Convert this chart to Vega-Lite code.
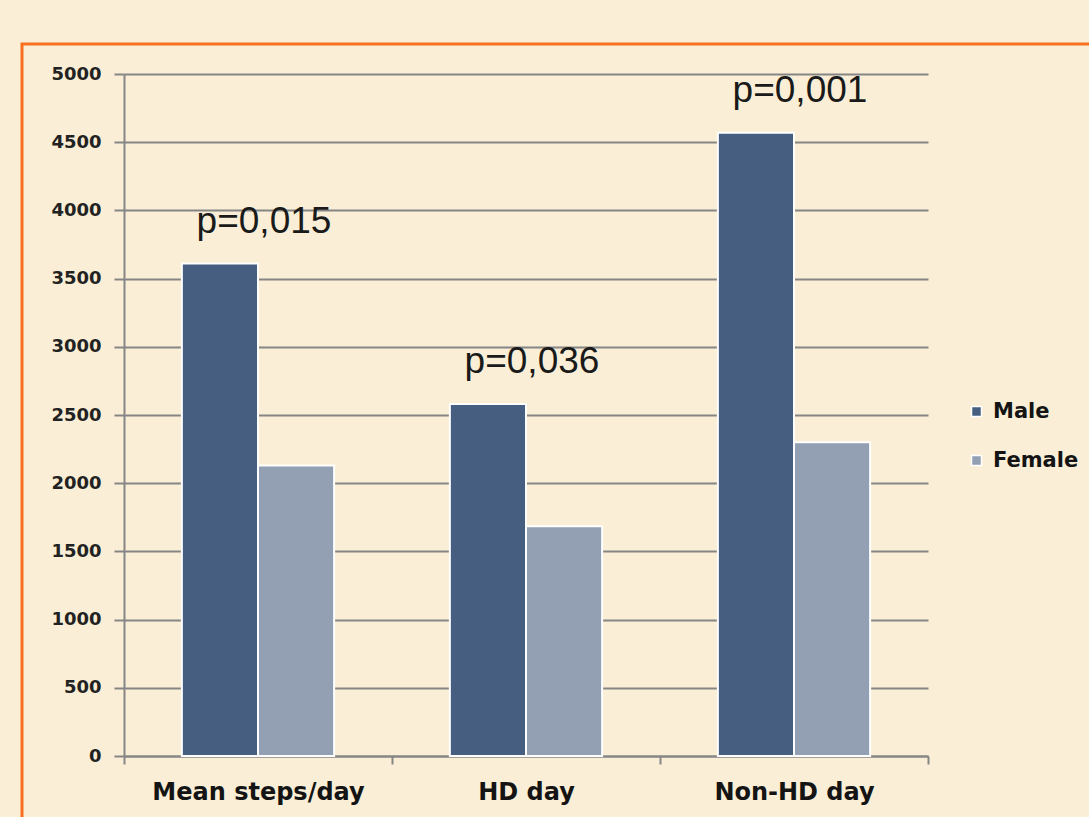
{
  "$schema": "https://vega.github.io/schema/vega-lite/v6.json",
  "width": 804,
  "height": 682,
  "autosize": "none",
  "padding": {"left": 124, "top": 74, "right": 161, "bottom": 61},
  "background": "#faefd6",
  "config": {"view": {"stroke": null}, "font": "DejaVu Sans"},
  "data": {
    "values": [
      {"category": "Mean steps/day", "sex": "Male", "steps": 3610, "p": "p=0,015"},
      {"category": "Mean steps/day", "sex": "Female", "steps": 2130},
      {"category": "HD day", "sex": "Male", "steps": 2580, "p": "p=0,036"},
      {"category": "HD day", "sex": "Female", "steps": 1685},
      {"category": "Non-HD day", "sex": "Male", "steps": 4570, "p": "p=0,001"},
      {"category": "Non-HD day", "sex": "Female", "steps": 2300}
    ]
  },
  "encoding": {
    "x": {
      "field": "category",
      "type": "nominal",
      "sort": ["Mean steps/day", "HD day", "Non-HD day"],
      "scale": {"paddingInner": 0, "paddingOuter": 0},
      "axis": {
        "title": null,
        "labelAngle": 0,
        "labelLimit": 0,
        "labelFont": "DejaVu Sans",
        "labelFontWeight": "bold",
        "labelFontSize": 24,
        "labelColor": "#141414",
        "labelPadding": 16,
        "domainColor": "#868686",
        "domainWidth": 2,
        "tickColor": "#868686",
        "tickWidth": 2,
        "tickSize": 8,
        "tickBand": "extent",
        "grid": false
      }
    },
    "y": {
      "field": "steps",
      "type": "quantitative",
      "scale": {"domain": [0, 5000], "nice": false},
      "axis": {
        "title": null,
        "values": [0, 500, 1000, 1500, 2000, 2500, 3000, 3500, 4000, 4500, 5000],
        "format": "d",
        "labelFont": "DejaVu Sans",
        "labelFontWeight": "bold",
        "labelFontSize": 18,
        "labelColor": "#222222",
        "labelPadding": 13,
        "domainColor": "#868686",
        "domainWidth": 2,
        "tickColor": "#868686",
        "tickWidth": 2,
        "tickSize": 10,
        "grid": true,
        "gridColor": "#868686",
        "gridWidth": 2
      }
    }
  },
  "layer": [
    {
      "data": {"values": [{"frame": "border"}]},
      "mark": {"type": "rect", "fill": null, "stroke": "#f8701f", "strokeWidth": 3},
      "encoding": {
        "x": {"value": -102},
        "x2": {"value": 1100},
        "y": {"value": -30},
        "y2": {"value": 900}
      }
    },
    {
      "mark": {"type": "bar", "stroke": "#ffffff", "strokeWidth": 2},
      "encoding": {
        "xOffset": {
          "field": "sex",
          "sort": ["Male", "Female"],
          "scale": {"paddingInner": 0, "paddingOuter": 0.76}
        },
        "color": {
          "field": "sex",
          "type": "nominal",
          "sort": ["Male", "Female"],
          "scale": {"range": ["#465f80", "#939fb3"]},
          "legend": {
            "title": null,
            "orient": "none",
            "legendX": 842,
            "legendY": 327,
            "symbolType": "square",
            "symbolSize": 100,
            "symbolStrokeColor": "#ffffff",
            "symbolStrokeWidth": 1.5,
            "labelFont": "DejaVu Sans",
            "labelFontWeight": "bold",
            "labelFontSize": 21,
            "labelColor": "#141414",
            "labelOffset": 6,
            "rowPadding": 27
          }
        }
      }
    },
    {
      "transform": [{"filter": "isValid(datum.p)"}],
      "mark": {
        "type": "text",
        "font": "Liberation Sans",
        "fontSize": 37,
        "color": "#1a1a1a",
        "baseline": "alphabetic",
        "align": "center",
        "dx": 6,
        "dy": -31
      },
      "encoding": {"text": {"field": "p"}}
    }
  ]
}
